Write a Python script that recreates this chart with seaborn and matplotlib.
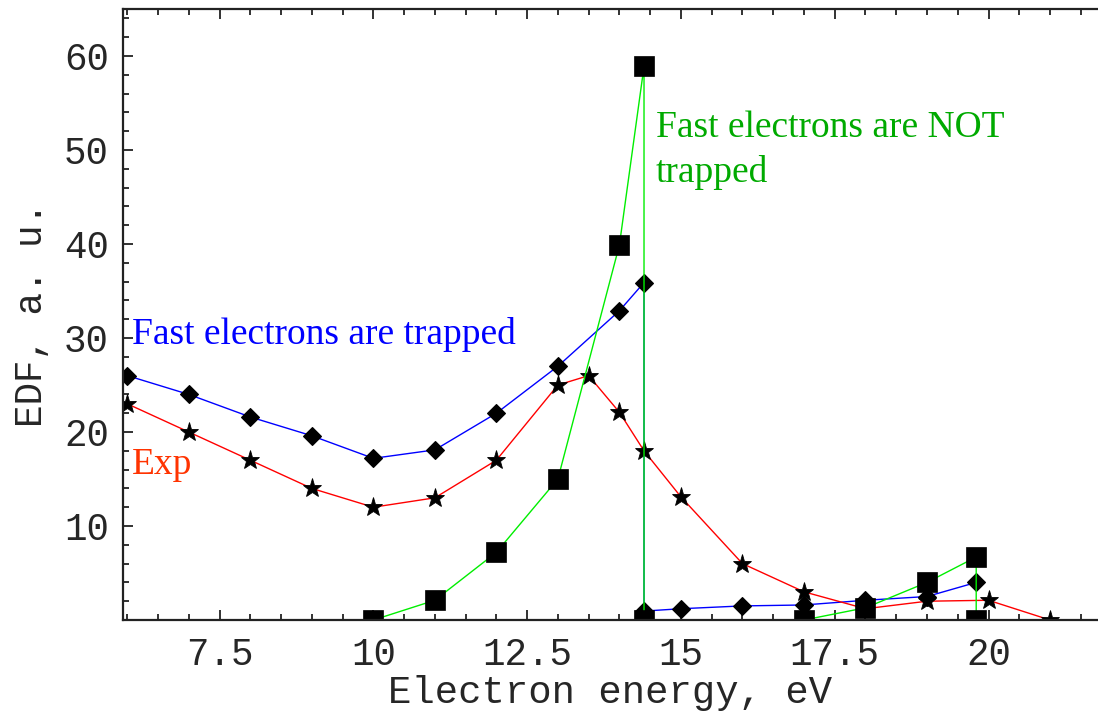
import matplotlib
matplotlib.use("Agg")
import matplotlib.pyplot as plt
from matplotlib.ticker import MultipleLocator, FixedLocator
import pandas as pd
import seaborn as sns

# Electron distribution function, fast electrons trapped (model)
trapped_energy = [6, 7, 8, 9, 10, 11, 12, 13, 14, 14.4, 14.4, 15, 16, 17, 18, 19, 19.8]
trapped_edf = [26, 24, 21.6, 19.6, 17.2, 18.1, 22, 27, 32.9, 35.9, 0.95, 1.2, 1.5, 1.6, 2.1, 2.5, 4.0]

# Measured EDF
exp_energy = [6, 7, 8, 9, 10, 11, 12, 13, 13.5, 14, 14.4, 15, 16, 17, 18, 19, 20, 21]
exp_edf = [23, 20, 17, 14, 12, 13, 17, 25, 26, 22.1, 18, 13.1, 6, 3, 1.2, 2, 2.1, 0]

# Fast electrons not trapped (model)
free_energy = [10, 11, 12, 13, 14, 14.4, 14.4, 17, 18, 19, 19.8, 19.8]
free_edf = [0, 2.1, 7.2, 15, 39.9, 58.9, 0, 0, 1.3, 4.0, 6.7, 0]

x_ticks = [7.5, 10, 12.5, 15, 17.5, 20]
x_tick_labels = ["7.5", "10", "12.5", "15", "17.5", "20"]
y_ticks = [10, 20, 30, 40, 50, 60]

sns.set_theme(style="white")
plt.rcParams["font.family"] = ["Liberation Mono", "DejaVu Sans Mono"]

fig = plt.figure(figsize=(10.98, 7.12), dpi=100)
ax = fig.add_axes([0.112, 0.1292, 0.888, 0.8581])

trapped = pd.DataFrame({"energy": trapped_energy, "edf": trapped_edf})
exp = pd.DataFrame({"energy": exp_energy, "edf": exp_edf})
free = pd.DataFrame({"energy": free_energy, "edf": free_edf})

line_kw = dict(sort=False, estimator=None, linewidth=1.0,
               markerfacecolor="black", markeredgecolor="black", ax=ax)

sns.lineplot(data=trapped, x="energy", y="edf", color="#0000FF",
             marker="D", markersize=9.5, markeredgewidth=0.8, **line_kw)
sns.lineplot(data=exp, x="energy", y="edf", color="#FF0000",
             marker="*", markersize=14, markeredgewidth=0.6, **line_kw)
sns.lineplot(data=free, x="energy", y="edf", color="#00EE00",
             marker="s", markersize=14, markeredgewidth=0.5, **line_kw)

ax.set_xlim(5.93, 21.78)
ax.set_ylim(0, 65)

ax.xaxis.set_major_locator(FixedLocator(x_ticks))
ax.set_xticklabels(x_tick_labels)
ax.xaxis.set_minor_locator(MultipleLocator(0.5))
ax.yaxis.set_major_locator(FixedLocator(y_ticks))
ax.yaxis.set_minor_locator(MultipleLocator(2))

for side in ["left", "bottom", "top"]:
    ax.spines[side].set_visible(True)
    ax.spines[side].set_color("#222222")
    ax.spines[side].set_linewidth(1.6)
ax.spines["right"].set_visible(False)

ax.tick_params(axis="x", which="both", direction="in", top=True, bottom=True,
               color="#222222", width=1.3, labelsize=27, pad=12)
ax.tick_params(axis="y", which="both", direction="in", left=True, right=False,
               color="#222222", width=1.3, labelsize=27, pad=10)
ax.tick_params(which="major", length=7)
ax.tick_params(which="minor", length=4)

ax.set_xlabel("Electron energy, eV", fontsize=28, labelpad=2)
ax.set_ylabel("EDF, a. u.", fontsize=27, labelpad=10)

serif = ["Liberation Serif", "DejaVu Serif"]
ax.text(6.07, 29.4, "Fast electrons are trapped", color="#0000FF",
        fontsize=27, family=serif, va="baseline", ha="left")
ax.text(6.07, 15.5, "Exp", color="#FF3300",
        fontsize=27, family=serif, va="baseline", ha="left")
ax.text(14.59, 51.4, "Fast electrons are NOT", color="#00AA00",
        fontsize=27, family=serif, va="baseline", ha="left")
ax.text(14.59, 46.6, "trapped", color="#00AA00",
        fontsize=27, family=serif, va="baseline", ha="left")

fig.savefig("out.png", dpi=100)
